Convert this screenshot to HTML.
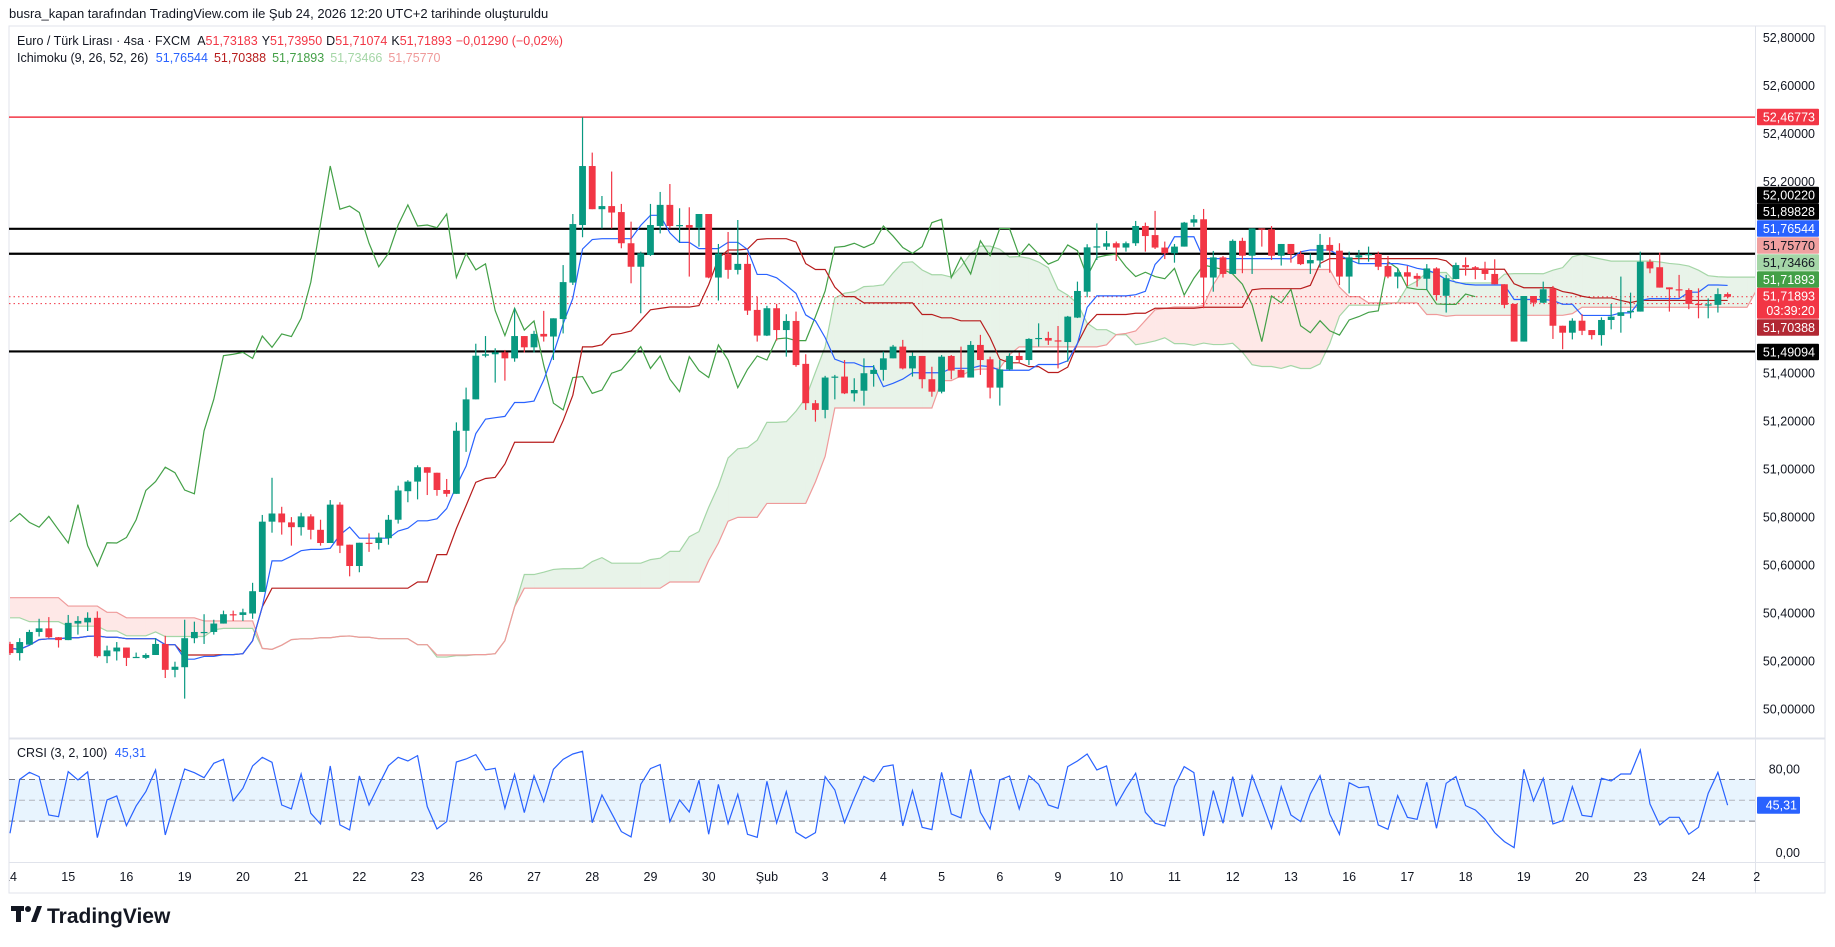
<!DOCTYPE html>
<html><head><meta charset="utf-8">
<style>
html,body{margin:0;padding:0;background:#fff;}
svg{display:block;font-family:"Liberation Sans","DejaVu Sans",sans-serif;}
</style></head>
<body>
<svg id="chart" width="1835" height="947" viewBox="0 0 1835 947" xmlns="http://www.w3.org/2000/svg">
<defs>
<clipPath id="mainClip"><rect x="9" y="27" width="1746" height="710"/></clipPath>
<clipPath id="crsiClip"><rect x="9" y="740" width="1746" height="122"/></clipPath>
<clipPath id="timeClip"><rect x="9" y="862" width="1760" height="30"/></clipPath>
</defs>
<rect x="0" y="0" width="1835" height="947" fill="#fff"/>
<text x="9" y="18" font-size="13" fill="#131722">busra_kapan tarafından TradingView.com ile Şub 24, 2026 12:20 UTC+2 tarihinde oluşturuldu</text>
<rect x="9" y="26" width="1816" height="867" fill="none" stroke="#e0e3eb" stroke-width="1"/>
<line x1="9" y1="738.5" x2="1825" y2="738.5" stroke="#e0e3eb" stroke-width="2"/>
<line x1="9" y1="862.5" x2="1825" y2="862.5" stroke="#e0e3eb"/>
<line x1="1755.5" y1="26" x2="1755.5" y2="893" stroke="#e0e3eb"/>
<g id="main" clip-path="url(#mainClip)"></g>
<g id="crsi" clip-path="url(#crsiClip)"></g>
<g id="time" clip-path="url(#timeClip)"></g>
<g id="axis"></g>
<text x="17" y="45" font-size="12.5" fill="#131722">Euro / Türk Lirası · 4sa · FXCM <tspan dx="4">A</tspan><tspan fill="#f23645">51,73183</tspan><tspan dx="4">Y</tspan><tspan fill="#f23645">51,73950</tspan><tspan dx="4">D</tspan><tspan fill="#f23645">51,71074</tspan><tspan dx="4">K</tspan><tspan fill="#f23645">51,71893</tspan><tspan dx="4" fill="#f23645">−0,01290 (−0,02%)</tspan></text>
<text x="17" y="62" font-size="12.5" fill="#131722">Ichimoku (9, 26, 52, 26) <tspan dx="4" fill="#2962ff">51,76544</tspan><tspan dx="6" fill="#b71c1c">51,70388</tspan><tspan dx="6" fill="#43a047">51,71893</tspan><tspan dx="6" fill="#a5d6a7">51,73466</tspan><tspan dx="6" fill="#ef9a9a">51,75770</tspan></text>
<text x="17" y="757" font-size="12.5" fill="#131722">CRSI (3, 2, 100) <tspan dx="4" fill="#2962ff">45,31</tspan></text>
<g>
<rect x="11" y="906" width="13" height="5" fill="#131722"/>
<rect x="16" y="906" width="5" height="16" fill="#131722"/>
<circle cx="28" cy="909" r="3" fill="#131722"/>
<polygon points="31,922 37,906 42,906 36,922" fill="#131722"/>
<text x="47" y="923" font-size="21" font-weight="bold" fill="#131722">TradingView</text>
</g>
</svg>
<script>
const opens=[50.271,50.233,50.268,50.321,50.336,50.299,50.287,50.356,50.361,50.380,50.220,50.240,50.256,50.213,50.213,50.225,50.271,50.163,50.174,50.295,50.321,50.321,50.356,50.395,50.392,50.398,50.488,50.781,50.815,50.778,50.758,50.803,50.747,50.692,50.852,50.685,50.596,50.693,50.692,50.712,50.789,50.908,50.948,51.008,50.985,50.913,50.897,51.160,51.291,51.473,51.479,51.487,51.462,51.555,51.508,51.564,51.553,51.626,51.778,52.018,52.264,52.084,52.097,52.072,51.942,51.844,51.893,52.014,52.102,52.014,52.018,52.007,52.064,51.799,51.899,51.831,51.856,51.664,51.557,51.671,51.580,51.618,51.439,51.275,51.247,51.382,51.386,51.316,51.327,51.397,51.414,51.462,51.511,51.420,51.472,51.375,51.323,51.472,51.414,51.382,51.518,51.458,51.340,51.416,51.472,51.455,51.543,51.547,51.537,51.530,51.632,51.740,51.927,51.928,51.942,51.924,51.942,52.014,51.976,51.924,51.900,51.928,52.028,52.042,51.799,51.883,51.814,51.952,51.890,52.004,52.000,51.890,51.939,51.897,51.858,51.870,51.935,51.911,51.803,51.883,51.897,51.897,51.847,51.803,51.821,51.806,51.794,51.837,51.723,51.793,51.851,51.842,51.837,51.814,51.771,51.689,51.532,51.722,51.694,51.753,51.598,51.569,51.619,51.580,51.559,51.622,51.639,51.654,51.657,51.865,51.842,51.758,51.750,51.747,51.689,51.686,51.685,51.730];
const highs=[50.280,50.295,50.330,50.376,50.383,50.300,50.392,50.387,50.403,50.407,50.264,50.279,50.256,50.235,50.232,50.295,50.305,50.197,50.372,50.364,50.395,50.372,50.410,50.410,50.418,50.526,50.809,50.964,50.843,50.800,50.818,50.812,50.789,50.871,50.862,50.685,50.693,50.732,50.735,50.809,50.931,50.954,51.016,51.008,50.985,50.959,51.195,51.340,51.523,51.555,51.504,51.497,51.671,51.555,51.577,51.660,51.629,51.851,52.064,52.467,52.320,52.139,52.241,52.106,52.032,51.907,52.106,52.156,52.189,52.088,52.092,52.064,52.064,51.939,51.989,52.039,51.899,51.719,51.681,51.689,51.646,51.657,51.479,51.288,51.389,51.393,51.455,51.379,51.462,51.434,51.490,51.518,51.539,51.486,51.472,51.427,51.476,51.476,51.511,51.534,51.560,51.469,51.455,51.483,51.486,51.546,51.608,51.573,51.597,51.639,51.782,51.938,52.025,51.993,51.949,51.949,52.035,52.028,52.077,51.949,51.939,52.031,52.060,52.085,51.910,51.889,51.958,51.965,52.004,52.004,52.014,51.939,51.939,51.910,51.900,51.981,51.967,51.942,51.907,51.914,51.928,51.907,51.889,51.837,51.847,51.817,51.855,51.842,51.810,51.861,51.883,51.847,51.865,51.875,51.771,51.689,51.722,51.722,51.782,51.764,51.598,51.629,51.646,51.580,51.633,51.689,51.803,51.736,51.907,51.875,51.903,51.758,51.810,51.754,51.754,51.712,51.754,51.737];
const lows=[50.225,50.202,50.268,50.302,50.295,50.256,50.287,50.310,50.325,50.214,50.191,50.202,50.179,50.213,50.208,50.225,50.129,50.132,50.043,50.274,50.271,50.310,50.356,50.367,50.367,50.376,50.488,50.735,50.727,50.681,50.723,50.707,50.681,50.692,50.650,50.553,50.570,50.655,50.665,50.685,50.773,50.862,50.874,50.892,50.889,50.885,50.897,51.072,51.291,51.466,51.361,51.369,51.448,51.486,51.486,51.532,51.455,51.566,51.768,51.967,52.084,52.004,52.004,51.921,51.775,51.650,51.889,51.983,52.004,51.944,51.803,51.928,51.796,51.703,51.794,51.812,51.643,51.532,51.555,51.536,51.469,51.427,51.247,51.198,51.212,51.291,51.313,51.282,51.265,51.344,51.369,51.462,51.416,51.386,51.337,51.302,51.316,51.375,51.382,51.382,51.393,51.295,51.265,51.411,51.441,51.434,51.511,51.518,51.420,51.448,51.630,51.717,51.872,51.914,51.868,51.907,51.931,51.907,51.918,51.876,51.861,51.928,52.011,51.671,51.740,51.799,51.814,51.817,51.814,51.928,51.872,51.849,51.861,51.851,51.814,51.840,51.819,51.768,51.733,51.858,51.865,51.830,51.796,51.754,51.764,51.761,51.747,51.703,51.653,51.792,51.807,51.792,51.789,51.771,51.671,51.532,51.532,51.678,51.692,51.543,51.500,51.541,51.559,51.541,51.515,51.583,51.569,51.629,51.657,51.817,51.757,51.657,51.715,51.667,51.629,51.629,51.653,51.712];
const closes=[50.233,50.279,50.321,50.336,50.299,50.287,50.359,50.367,50.380,50.220,50.244,50.256,50.213,50.217,50.225,50.271,50.163,50.176,50.295,50.321,50.321,50.356,50.395,50.394,50.403,50.491,50.781,50.815,50.778,50.758,50.803,50.747,50.692,50.852,50.681,50.596,50.693,50.692,50.715,50.789,50.911,50.948,51.008,50.985,50.913,50.897,51.160,51.291,51.473,51.479,51.487,51.462,51.555,51.508,51.564,51.553,51.629,51.780,52.022,52.264,52.084,52.097,52.070,51.942,51.844,51.900,52.018,52.102,52.014,52.018,52.007,52.064,51.799,51.899,51.831,51.856,51.661,51.557,51.671,51.580,51.618,51.434,51.275,51.247,51.382,51.386,51.316,51.330,51.400,51.414,51.462,51.511,51.420,51.472,51.375,51.323,51.469,51.411,51.382,51.518,51.455,51.340,51.416,51.472,51.455,51.543,51.547,51.536,51.536,51.636,51.743,51.925,51.929,51.942,51.924,51.942,52.014,51.972,51.924,51.900,51.928,52.028,52.042,51.799,51.883,51.814,51.952,51.890,52.004,52.003,51.890,51.939,51.897,51.855,51.872,51.935,51.911,51.803,51.883,51.892,51.897,51.844,51.803,51.821,51.803,51.794,51.837,51.726,51.796,51.851,51.842,51.833,51.814,51.771,51.685,51.532,51.722,51.694,51.750,51.598,51.569,51.619,51.577,51.559,51.622,51.636,51.654,51.660,51.865,51.837,51.757,51.750,51.749,51.689,51.687,51.687,51.730,51.719];
const spanAPre=[50.380,50.380,50.364,50.364,50.364,50.364,50.345,50.345,50.345,50.345,50.325,50.325,50.305,50.305,50.305,50.321,50.302,50.302,50.302,50.302,50.302,50.330,50.336,50.336,50.336,50.336];
const spanBPre=[50.464,50.464,50.464,50.464,50.464,50.464,50.429,50.429,50.429,50.429,50.403,50.403,50.380,50.380,50.380,50.380,50.380,50.380,50.380,50.380,50.367,50.367,50.367,50.367,50.367,50.367];
const crsiValues=[18.4,70.1,76.8,72.7,35.9,34.3,77.5,69.5,77.2,14.2,50.3,54.2,25.7,44.6,58.3,79.1,16.8,48.7,80,76.5,71.7,85.5,89.3,49.4,61.5,82.9,91.2,86.4,45.5,41.7,75.2,37.5,27.3,82.9,26.4,21.6,73.3,45.5,64.7,83.2,91.2,87.7,92.8,43.9,22.5,29.6,
86.7,89.6,93.8,79.1,80.7,42.3,74.9,38.2,73.6,48.7,79.7,89.3,94.4,97,28.6,55.1,37.5,20,14.9,65.3,80.4,84.2,29.6,50.3,38.8,69.2,17.4,65.3,27.6,55.8,17.4,14.5,68.2,28.3,58.3,19.3,13.6,19,72.7,59.9,28.6,51.9,73,67.9,82.3,83.9,
25.4,59.3,24.1,21.9,76.8,36.9,33.1,79.7,38.5,22.5,69.5,73.3,41.7,73.6,65.3,45.5,42.3,82.3,87.7,94.4,79.1,82.9,45.2,61.5,75.9,38.5,28,25.4,63.1,82.3,76.5,15.8,59.3,28,72.7,34.3,73.6,48.7,23.2,63.1,35.9,29.6,56.1,73.6,36.9,
17.4,66.9,62.1,63.1,26.4,22.2,54.5,33.7,31.8,67.3,23.2,66.3,72.7,44.9,40.7,31.8,19,10.4,4.6,79.7,49.4,71.1,27.3,30.5,63.1,35.6,34.3,71.1,68.5,75.2,75.2,98.2,46.5,26.4,33.7,33.7,17.4,24.1,56.7,76.8,45.31];
const priceTicks=[52.8,52.6,52.4,52.2,51.4,51.2,51.0,50.8,50.6,50.4,50.2,50.0];
const crsiTicks=[80,0];
const dayLabels=["14","15","16","19","20","21","22","23","26","27","28","29","30","Şub","3","4","5","6","9","10","11","12","13","16","17","18","19","20","23","24","2"];
const levelPrices=[52.46773,52.00220,51.89828,51.49094];
const levelColors=["#f23645","#000","#000","#000"];
const boxValues=["52,46773","52,00220","51,89828","51,76544","51,75770","51,73466","51,71893","51,71893","51,70388","51,49094"];
const boxFills=["#f23645","#000000","#000000","#2962ff","#f0a0a0","#a5d6a7","#43a047","#f23645","#b22833","#000000"];
const boxTextColors=["#fff","#fff","#fff","#fff","#131722","#131722","#fff","#fff","#fff","#fff"];
const boxCenters=[117,195,211.5,228.5,245.5,262.5,279.5,296,327.5,352];

const NS="http://www.w3.org/2000/svg";
const xI=i=>10+i*9.704;
const yP=p=>37.5+(52.8-p)*239.8;
const yC=v=>800.3-(v-50)*1.043;
function mk(tag,attrs,parent){const e=document.createElementNS(NS,tag);for(const k in attrs)e.setAttribute(k,attrs[k]);parent.appendChild(e);return e;}
const main=document.getElementById('main'),crsi=document.getElementById('crsi'),axis=document.getElementById('axis'),time=document.getElementById('time');
const N=closes.length;

const tenkan=[],kijun=[],spanA=[],spanB=[];
function mid(i,len){let h=-1e9,l=1e9;for(let k=Math.max(0,i-len+1);k<=i;k++){h=Math.max(h,highs[k]);l=Math.min(l,lows[k]);}return (h+l)/2;}
for(let i=0;i<N;i++){tenkan.push(mid(i,9));kijun.push(mid(i,26));}
for(let j=0;j<N+26;j++){
  if(j<26){spanA.push(spanAPre[j]);spanB.push(spanBPre[j]);}
  else{const i=j-26;spanA.push((tenkan[i]+kijun[i])/2);spanB.push(mid(i,52));}
}
for(let j=0;j<spanA.length-1;j++){
  const up=(spanA[j]+spanA[j+1])>=(spanB[j]+spanB[j+1]);
  const q=mk('polygon',{points:`${xI(j)},${yP(spanA[j])} ${xI(j+1)},${yP(spanA[j+1])} ${xI(j+1)},${yP(spanB[j+1])} ${xI(j)},${yP(spanB[j])}`,fill:up?'rgba(67,160,71,0.12)':'rgba(244,67,54,0.12)'},main);
  
  
}
function line(vals,offset,color,name,w){
  const pts=vals.map((v,i)=>`${xI(i+offset)},${yP(v)}`).join(' ');
  const l=mk('polyline',{points:pts,fill:'none',stroke:color,'stroke-width':w||1.2},main);
  
  
}
line(spanA,0,'#a5d6a7','ichimoku-span-a');
line(spanB,0,'#ef9a9a','ichimoku-span-b');
levelPrices.forEach((p,k)=>{
  const l=mk('line',{x1:9,x2:1755,y1:yP(p),y2:yP(p),stroke:levelColors[k],'stroke-width':k===0?1.5:2.2},main);
  
  
});
[51.71893,51.69].forEach(p=>{
  const l=mk('line',{x1:9,x2:1755,y1:yP(p),y2:yP(p),stroke:'#f23645','stroke-width':1,'stroke-dasharray':'1.5 3'},main);
  
  
});
line(closes.slice(26),0,'#43a047','ichimoku-lagging-span');
line(kijun,0,'#b71c1c','ichimoku-base-line');
line(tenkan,0,'#2962ff','ichimoku-conversion-line');
for(let i=0;i<N;i++){
  const up=closes[i]>=opens[i];const c=up?'#089981':'#f23645';const x=xI(i);
  const g=mk('g',{},main);
  
  
  mk('line',{x1:x,x2:x,y1:yP(highs[i]),y2:yP(lows[i]),stroke:c,'stroke-width':1.2},g);
  const t=yP(Math.max(opens[i],closes[i])),b=yP(Math.min(opens[i],closes[i]));
  mk('rect',{x:x-3.4,y:t,width:6.8,height:Math.max(1.2,b-t),fill:c},g);
}
priceTicks.forEach(p=>{
  const t=mk('text',{x:1815,y:yP(p)+4.5,'font-size':12.5,fill:'#131722','text-anchor':'end'},axis);
  t.textContent=p.toFixed(5).replace('.',',');
  
  
});
boxValues.forEach((v,k)=>{
  const h=(k===7)?31:16.5;const top=boxCenters[k]-8.25;
  const r=mk('rect',{x:1757,y:top,width:62,height:h,fill:boxFills[k],rx:1},axis);
  
  
  const t=mk('text',{x:1815,y:boxCenters[k]+4.5,'font-size':12.5,fill:boxTextColors[k],'text-anchor':'end'},axis);
  t.textContent=v;
  
  
  if(k===7){const c=mk('text',{x:1815,y:boxCenters[k]+19,'font-size':12.5,fill:'#fff','text-anchor':'end'},axis);c.textContent='03:39:20';
    
    }
});
const band=mk('rect',{x:9,y:yC(70),width:1746,height:yC(30)-yC(70),fill:'rgba(33,150,243,0.1)'},crsi);


[[70,'#787b86'],[50,'#b2b5be'],[30,'#787b86']].forEach(([v,c])=>{
  const l=mk('line',{x1:9,x2:1755,y1:yC(v),y2:yC(v),stroke:c,'stroke-width':1,'stroke-dasharray':'6 4'},crsi);
  
  
});
const cl=mk('polyline',{points:crsiValues.map((v,i)=>`${xI(i)},${yC(v)}`).join(' '),fill:'none',stroke:'#2962ff','stroke-width':1.2},crsi);


crsiTicks.forEach(v=>{
  const t=mk('text',{x:1800,y:yC(v)+4.5,'font-size':12.5,fill:'#131722','text-anchor':'end'},axis);
  t.textContent=v.toFixed(2).replace('.',',');
  
  
});
const lastC=crsiValues[crsiValues.length-1];
const cb=mk('rect',{x:1757,y:yC(lastC)-8.5,width:43,height:17,fill:'#2962ff',rx:1},axis);


const ct=mk('text',{x:1797,y:yC(lastC)+4.5,'font-size':12.5,fill:'#fff','text-anchor':'end'},axis);
ct.textContent=lastC.toFixed(2).replace('.',',');


dayLabels.forEach((d,k)=>{
  const t=mk('text',{x:xI(k*6),y:881,'font-size':12.5,fill:'#131722','text-anchor':'middle'},time);
  t.textContent=d;
  
  
});
</script>
</body></html>
